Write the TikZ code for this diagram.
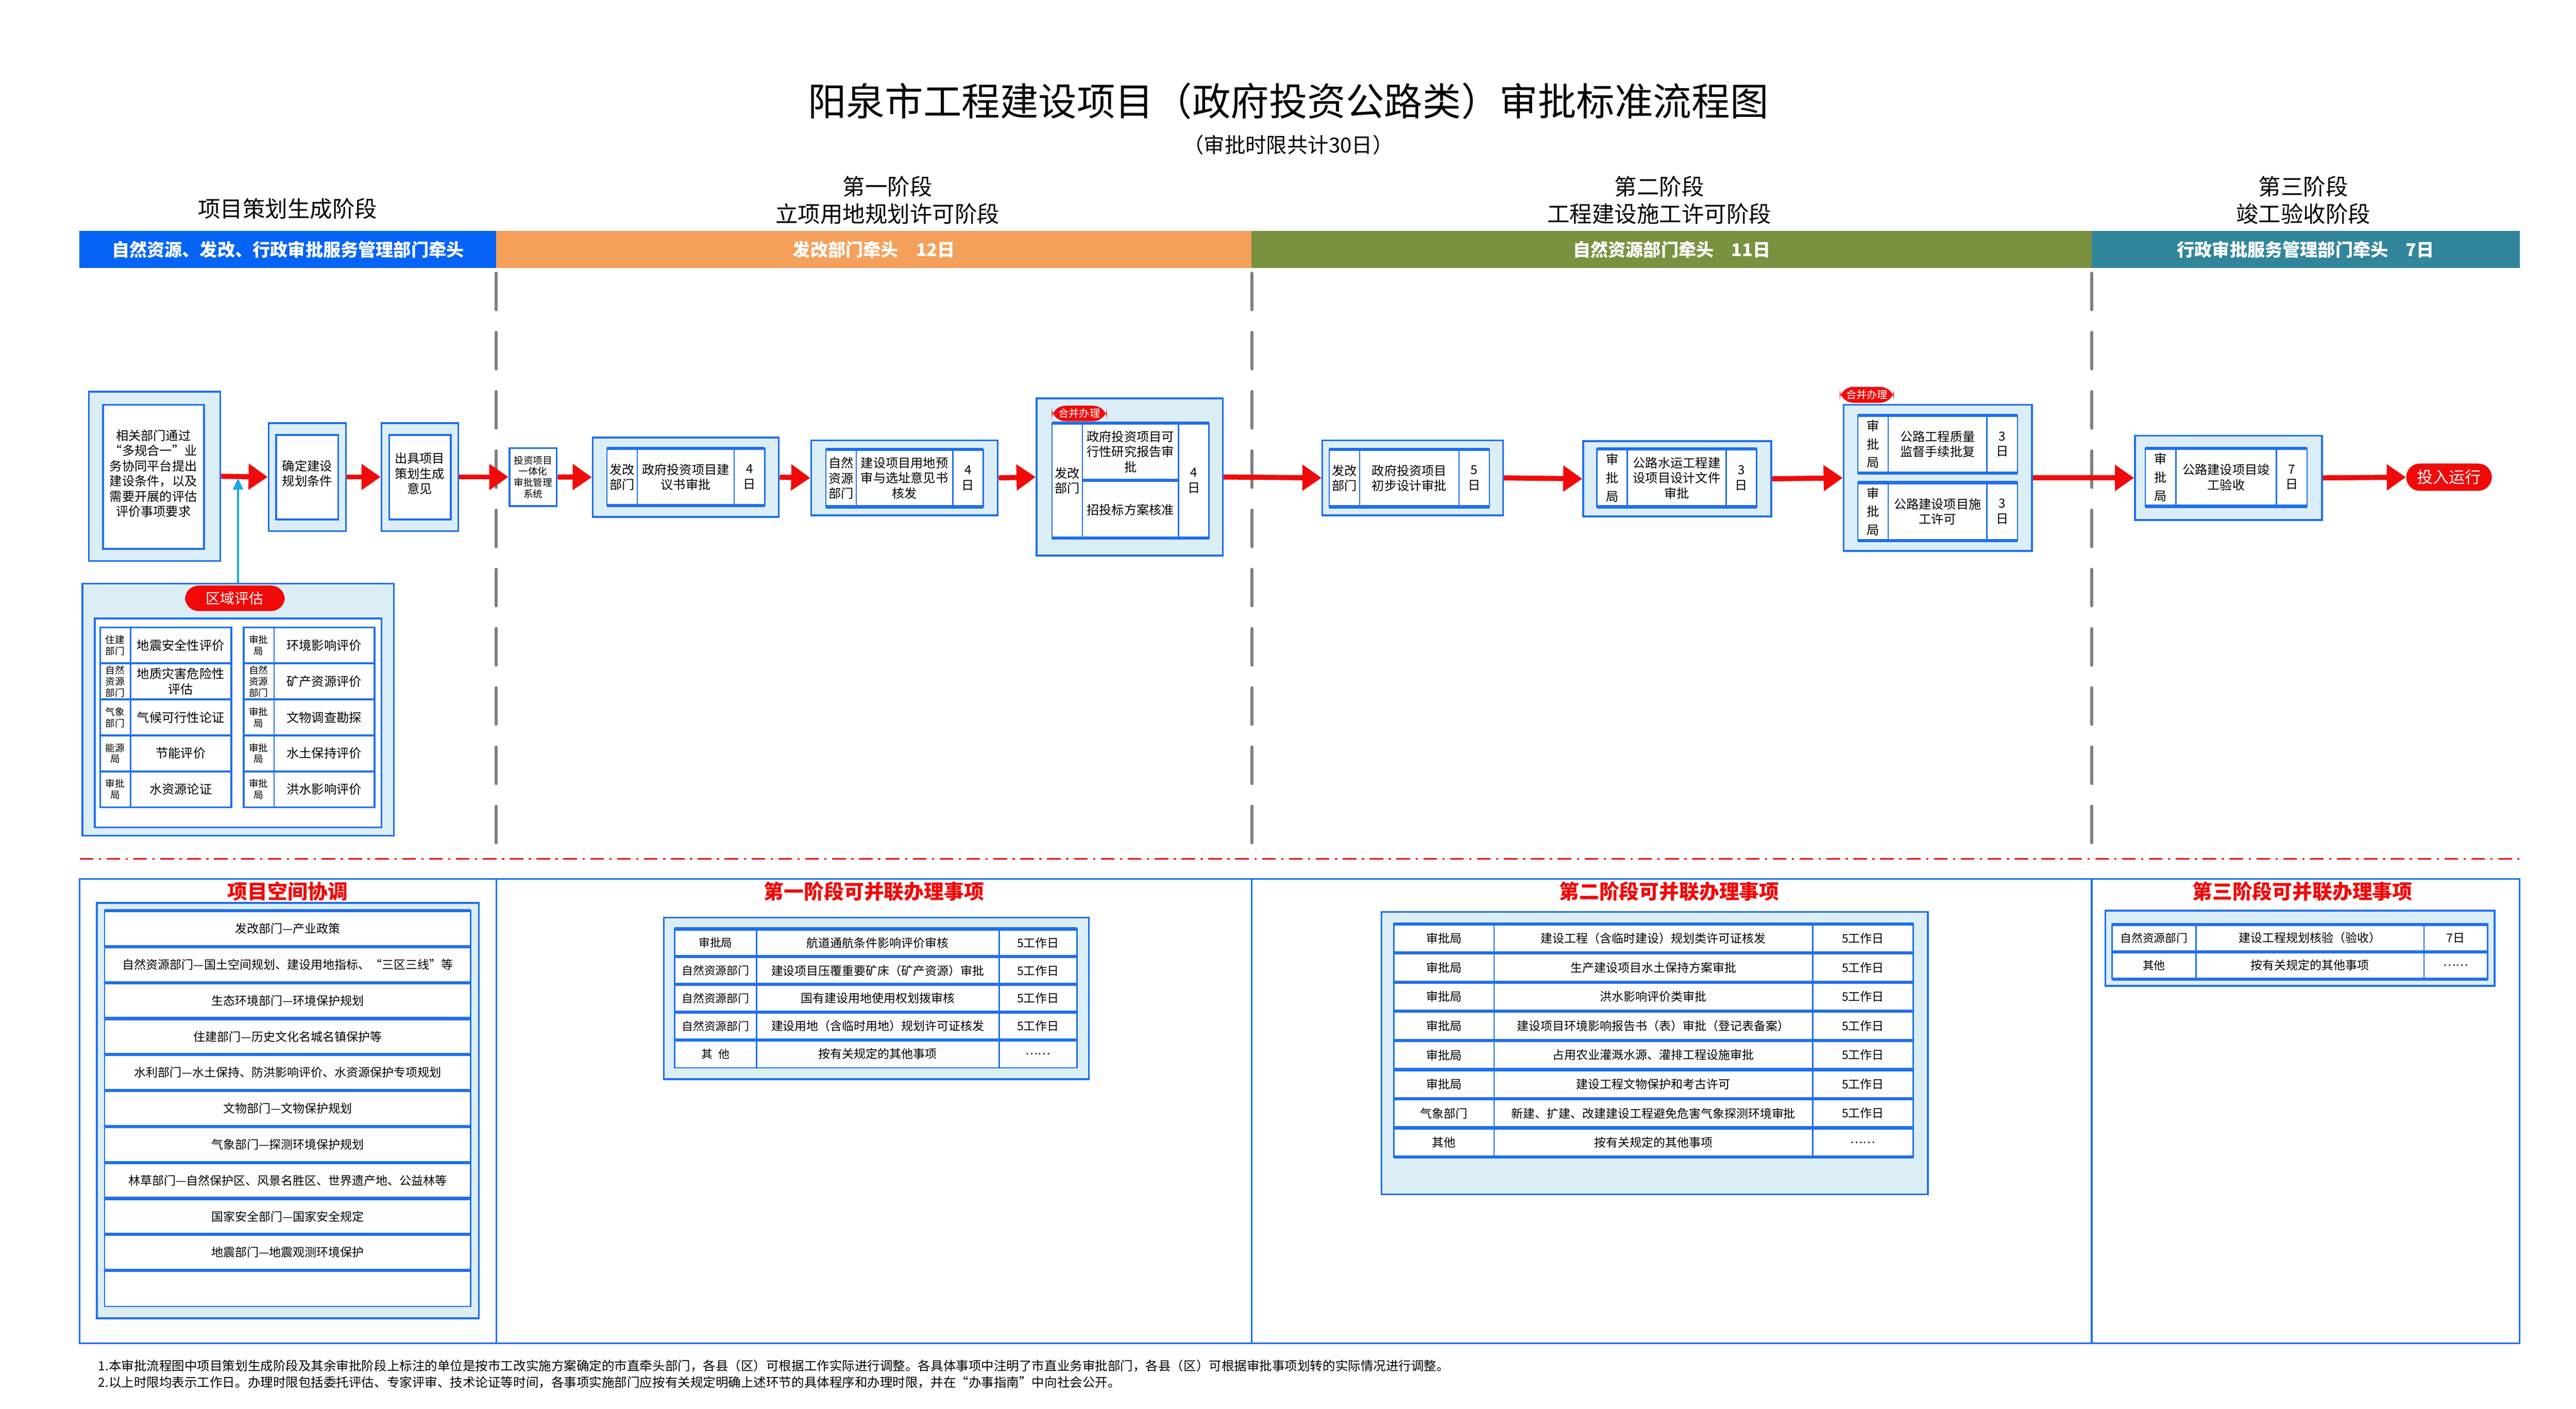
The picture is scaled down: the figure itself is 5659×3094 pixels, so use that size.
\documentclass[tikz,border=0pt]{standalone}
\usepackage{fontspec}
\setmainfont{Noto Sans CJK SC}
\usetikzlibrary{arrows.meta,positioning}
\definecolor{lineblue}{HTML}{1F6FEF}
\definecolor{paleblue}{HTML}{DCEEF5}
\definecolor{bandblue}{HTML}{0563F5}
\definecolor{bandorange}{HTML}{F4A05A}
\definecolor{bandgreen}{HTML}{7A9140}
\definecolor{bandteal}{HTML}{31869B}
\definecolor{alarm}{HTML}{F00A0A}
\definecolor{hint}{HTML}{1AA7E8}

% outer pale panel given by its corners
\newcommand\obox[5]{\node[obox, minimum width={(#4-#2)*0.01cm}, minimum height={(#5-#3)*0.01cm}] (#1) at ({(#2+#4)/2},{(#3+#5)/2}) {};}
% step cell: name, x1, y1, x2, y2, dept, task, days
\newcommand\stepcell[8]{%
  \draw[ibox] (#2,#3) rectangle (#4,#5);
  \draw[iedge] (#2,#3) -- (#4,#3) (#2,#5) -- (#4,#5);
  \draw[icol] ({#2+67},#3) -- ({#2+67},#5) ({#4-67},#3) -- ({#4-67},#5);
  \node[txt] (#1-d) at ({#2+33.5},{(#3+#5)/2}) {#6};
  \node[txt] (#1-t) at ({(#2+#4)/2},{(#3+#5)/2}) {#7};
  \node[txt] (#1-n) at ({#4-33.5},{(#3+#5)/2}) {#8};}

\begin{document}
\begin{tikzpicture}[x=0.01cm, y=-0.01cm,
  obox/.style={draw=lineblue, fill=paleblue, line width=1.1pt, inner sep=0},
  ibox/.style={draw=lineblue, fill=white, line width=0.8pt},
  iedge/.style={draw=lineblue, line width=2pt},
  icol/.style={draw=lineblue, line width=0.8pt},
  txt/.style={font=\fontsize{7.8}{9.5}\selectfont, align=center, inner sep=0},
  small/.style={font=\fontsize{6}{7}\selectfont, align=center, inner sep=0},
  ttxt/.style={font=\fontsize{7.4}{9}\selectfont, align=center, inner sep=0},
  phase/.style={font=\fontsize{14}{17}\selectfont, align=center},
  band/.style={text=white, font=\bfseries\fontsize{11}{13}\selectfont, minimum height=0.81cm, inner sep=0},
  badge/.style={fill=alarm, text=white, rounded corners=0.3cm, inner sep=0},
  red title/.style={text=alarm, font=\bfseries\fontsize{12.5}{15}\selectfont},
  flow/.style={draw=alarm, line width=3.2pt, -{Triangle[length=0.42cm, width=0.55cm]}},
  up/.style={draw=hint, line width=1.2pt, -{Triangle[length=0.25cm, width=0.22cm]}},
  sep/.style={draw=gray, line width=2pt, line cap=round, dash pattern=on 0.8cm off 0.5cm},
  frame/.style={draw=lineblue, line width=1pt}]
\useasboundingbox (0,0) rectangle (5659,3094);

% title
\node[font=\fontsize{24}{28}\selectfont] (title) at (2830,222) {阳泉市工程建设项目（政府投资公路类）审批标准流程图};
\node[font=\fontsize{13}{15}\selectfont] (subtitle) at (2830,318) {（审批时限共计30日）};

% phases
\node[phase] (h0) at (632,458) {项目策划生成阶段};
\node[phase] (h1) at (1950,440) {第一阶段\\立项用地规划许可阶段};
\node[phase] (h2) at (3645,440) {第二阶段\\工程建设施工许可阶段};
\node[phase] (h3) at (5060,440) {第三阶段\\竣工验收阶段};
\node[band, fill=bandblue, minimum width=9.15cm] (b0) at (632.5,548) {自然资源、发改、行政审批服务管理部门牵头};
\node[band, fill=bandorange, minimum width=16.6cm] (b1) at (1920,548) {发改部门牵头\quad 12日};
\node[band, fill=bandgreen, minimum width=18.45cm] (b2) at (3672.5,548) {自然资源部门牵头\quad 11日};
\node[band, fill=bandteal, minimum width=9.4cm] (b3) at (5065,548) {行政审批服务管理部门牵头\quad 7日};
\foreach \x in {1090,2750,4595}
  \draw[sep] (\x,600) -- (\x,1870);
\draw[alarm, line width=1.2pt, dash pattern=on 0.3cm off 0.12cm on 0.05cm off 0.12cm] (175,1886) -- (5535,1886);

% planning stage
\obox{o1}{195}{860}{484}{1232}
\draw[ibox, line width=1.2pt] (226,889) rectangle (448,1205);
\node[txt] (o1-t) at (337,1040) {相关部门通过\\“多规合一”业\\务协同平台提出\\建设条件，以及\\需要开展的评估\\评价事项要求};
\obox{o2}{590}{929}{760}{1166}
\draw[ibox, line width=1.2pt] (607,955) rectangle (743,1141);
\node[txt] (o2-t) at (675,1040) {确定建设\\规划条件};
\obox{o3}{838}{929}{1007}{1166}
\draw[ibox, line width=1.2pt] (855,955) rectangle (990,1141);
\node[txt] (o3-t) at (922,1040) {出具项目\\策划生成\\意见};

% area assessment
\obox{zone}{181}{1282}{865}{1835}
\draw[ibox, line width=1.2pt] (208,1358) rectangle (838,1817);
\node[badge, minimum width=2.19cm, minimum height=0.56cm, font=\fontsize{9}{11}\selectfont] (zonetag) at (516,1314) {区域评估};
\foreach \d/\t [count=\k from 0] in {住建\\部门/地震安全性评价, 自然\\资源\\部门/地质灾害危险性\\评估, 气象\\部门/气候可行性论证, 能源\\局/节能评价, 审批\\局/水资源论证}{
  \draw[ibox, line width=1.2pt] (220,{1378+79*\k}) rectangle (508,{1457+79*\k});
  \draw[icol] (287,{1378+79*\k}) -- (287,{1457+79*\k});
  \node[small] (zl\k) at (253,{1417.5+79*\k}) {\d};
  \node[txt] (zlt\k) at (397,{1417.5+79*\k}) {\t};
}
\foreach \d/\t [count=\k from 0] in {审批\\局/环境影响评价, 自然\\资源\\部门/矿产资源评价, 审批\\局/文物调查勘探, 审批\\局/水土保持评价, 审批\\局/洪水影响评价}{
  \draw[ibox, line width=1.2pt] (535,{1378+79*\k}) rectangle (823,{1457+79*\k});
  \draw[icol] (602,{1378+79*\k}) -- (602,{1457+79*\k});
  \node[small] (zr\k) at (568,{1417.5+79*\k}) {\d};
  \node[txt] (zrt\k) at (712,{1417.5+79*\k}) {\t};
}

% stage one
\node[draw=lineblue, fill=white, line width=1.2pt, minimum width=1.04cm, minimum height=1.27cm, small] (sys) at (1171,1047.5) {投资项目\\一体化\\审批管理\\系统};
\obox{o5}{1302}{961}{1711}{1135}
\stepcell{c5}{1333}{985}{1680}{1110}{发改\\部门}{政府投资项目建\\议书审批}{4\\日}
\obox{o6}{1782}{967}{2192}{1132}
\stepcell{c6}{1814}{987}{2160}{1113}{自然\\资源\\部门}{建设项目用地预\\审与选址意见书\\核发}{4\\日}
\obox{o7}{2277}{875}{2686}{1220}
\stepcell{c7}{2311}{929}{2656}{1182}{发改\\部门}{}{4\\日}
\draw[iedge] (2378,1055) -- (2589,1055);
\node[txt] (c7-a) at (2483.5,992) {政府投资项目可\\行性研究报告审\\批};
\node[txt] (c7-b) at (2483.5,1120) {招投标方案核准};
\node[badge, minimum width=1.21cm, minimum height=0.34cm, font=\fontsize{6.5}{8}\selectfont] (merge1) at (2371,908) {合并办理};

% stage two
\obox{o8}{2905}{967}{3302}{1132}
\stepcell{c8}{2920}{987}{3272}{1113}{发改\\部门}{政府投资项目\\初步设计审批}{5\\日}
\obox{o9}{3478}{969}{3891}{1134}
\stepcell{c9}{3508}{986}{3859}{1113}{审\\[2pt]批\\[2pt]局}{公路水运工程建\\设项目设计文件\\审批}{3\\日}
\obox{o10}{4050}{889}{4464}{1210}
\stepcell{c10a}{4081}{912}{4432}{1039}{审\\[2pt]批\\[2pt]局}{公路工程质量\\监督手续批复}{3\\日}
\stepcell{c10b}{4081}{1060}{4432}{1187}{审\\[2pt]批\\[2pt]局}{公路建设项目施\\工许可}{3\\日}
\node[badge, minimum width=1.19cm, minimum height=0.35cm, font=\fontsize{6.5}{8}\selectfont] (merge2) at (4101,867) {合并办理};

% stage three
\obox{o11}{4690}{957}{5101}{1142}
\stepcell{c11}{4713}{985}{5068}{1112}{审\\[2pt]批\\[2pt]局}{公路建设项目竣\\工验收}{7\\日}
\node[badge, rounded corners=0.3cm, minimum width=1.88cm, minimum height=0.6cm, font=\fontsize{10}{12}\selectfont] (run) at (5380,1048) {投入运行};

% main flow
\draw[flow] (o1.east) -- (o2.west);
\draw[flow] (o2.east) -- (o3.west);
\draw[flow] (o3.east) -- (sys.west);
\draw[flow] (sys.east) -- (o5.west);
\draw[flow] (o5.east) -- (o6.west);
\draw[flow] (o6.east) -- (o7.west);
\draw[flow] (o7.east) -- (o8.west);
\draw[flow] (o8.east) -- (o9.west);
\draw[flow] (o9.east) -- (o10.west);
\draw[flow] (o10.east) -- (o11.west);
\draw[flow] (o11.east) -- (run.west);
\coordinate (join) at (523,1050);
\draw[up] (zone.north -| join) -- (join);

% parallel items
\draw[frame] (175,1930) rectangle (5535,2950);
\foreach \x in {1090,2750,4595}
  \draw[frame] (\x,1930) -- (\x,2950);
\node[red title] (t0) at (632,1958) {项目空间协调};
\node[red title] (t1) at (1920,1958) {第一阶段可并联办理事项};
\node[red title] (t2) at (3667,1958) {第二阶段可并联办理事项};
\node[red title] (t3) at (5058,1958) {第三阶段可并联办理事项};

\obox{q0}{213}{1983}{1052}{2895}
\foreach \t [count=\k from 0] in {发改部门—产业政策, 自然资源部门—国土空间规划、建设用地指标、“三区三线”等, 生态环境部门—环境保护规划, 住建部门—历史文化名城名镇保护等, 水利部门—水土保持、防洪影响评价、水资源保护专项规划, 文物部门—文物保护规划, 气象部门—探测环境保护规划, 林草部门—自然保护区、风景名胜区、世界遗产地、公益林等, 国家安全部门—国家安全规定, 地震部门—地震观测环境保护, {}}{
  \draw[ibox] (230,{2000+79*\k}) rectangle (1034,{2079+79*\k});
  \draw[iedge] (230,{2000+79*\k}) -- (1034,{2000+79*\k});
  \node[ttxt] (sp\k) at (632,{2039.5+79*\k}) {\t};
}

\obox{q1}{1458}{2015}{2392}{2370}
\foreach \d/\t/\n [count=\k from 0] in {审批局/航道通航条件影响评价审核/5工作日, 自然资源部门/建设项目压覆重要矿床（矿产资源）审批/5工作日, 自然资源部门/国有建设用地使用权划拨审核/5工作日, 自然资源部门/建设用地（含临时用地）规划许可证核发/5工作日, 其\enspace 他/按有关规定的其他事项/……}{
  \draw[ibox] (1482,{2040+61*\k}) rectangle (2366,{2101+61*\k});
  \draw[iedge] (1482,{2040+61*\k}) -- (2366,{2040+61*\k});
  \draw[icol] (1662,{2040+61*\k}) -- (1662,{2101+61*\k}) (2195,{2040+61*\k}) -- (2195,{2101+61*\k});
  \node[small, font=\fontsize{7}{8}\selectfont] (p1d\k) at (1572,{2070.5+61*\k}) {\d};
  \node[ttxt] (p1t\k) at (1928.5,{2070.5+61*\k}) {\t};
  \node[ttxt] (p1n\k) at (2280.5,{2070.5+61*\k}) {\n};
}

\obox{q2}{3035}{2003}{4235}{2623}
\foreach \d/\t/\n [count=\k from 0] in {审批局/建设工程（含临时建设）规划类许可证核发/5工作日, 审批局/生产建设项目水土保持方案审批/5工作日, 审批局/洪水影响评价类审批/5工作日, 审批局/建设项目环境影响报告书（表）审批（登记表备案）/5工作日, 审批局/占用农业灌溉水源、灌排工程设施审批/5工作日, 审批局/建设工程文物保护和考古许可/5工作日, 气象部门/新建、扩建、改建建设工程避免危害气象探测环境审批/5工作日, 其他/按有关规定的其他事项/……}{
  \draw[ibox] (3062,{2029+64*\k}) rectangle (4203,{2093+64*\k});
  \draw[iedge] (3062,{2029+64*\k}) -- (4203,{2029+64*\k});
  \draw[icol] (3282,{2029+64*\k}) -- (3282,{2093+64*\k}) (3982,{2029+64*\k}) -- (3982,{2093+64*\k});
  \node[ttxt] (p2d\k) at (3172,{2061+64*\k}) {\d};
  \node[ttxt] (p2t\k) at (3632,{2061+64*\k}) {\t};
  \node[ttxt] (p2n\k) at (4092.5,{2061+64*\k}) {\n};
}
\draw[iedge] (3062,2541) -- (4203,2541);

\obox{q3}{4625}{2000}{5480}{2165}
\foreach \d/\t/\n [count=\k from 0] in {自然资源部门/建设工程规划核验（验收）/7日, 其他/按有关规定的其他事项/……}{
  \draw[ibox] (4640,{2030+60*\k}) rectangle (5465,{2090+60*\k});
  \draw[iedge] (4640,{2030+60*\k}) -- (5465,{2030+60*\k});
  \draw[icol] (4824,{2030+60*\k}) -- (4824,{2090+60*\k}) (5325,{2030+60*\k}) -- (5325,{2090+60*\k});
  \node[small, font=\fontsize{7}{8}\selectfont] (p3d\k) at (4732,{2060+60*\k}) {\d};
  \node[ttxt] (p3t\k) at (5074.5,{2060+60*\k}) {\t};
  \node[ttxt] (p3n\k) at (5395,{2060+60*\k}) {\n};
}
\draw[iedge] (4640,2150) -- (5465,2150);

% notes
\node[anchor=west, inner sep=0, font=\fontsize{7.9}{9.5}\selectfont] (note1) at (215,3000) {1.本审批流程图中项目策划生成阶段及其余审批阶段上标注的单位是按市工改实施方案确定的市直牵头部门，各县（区）可根据工作实际进行调整。各具体事项中注明了市直业务审批部门，各县（区）可根据审批事项划转的实际情况进行调整。};
\node[anchor=west, inner sep=0, font=\fontsize{7.9}{9.5}\selectfont] (note2) at (215,3036) {2.以上时限均表示工作日。办理时限包括委托评估、专家评审、技术论证等时间，各事项实施部门应按有关规定明确上述环节的具体程序和办理时限，并在“办事指南”中向社会公开。};
\end{tikzpicture}
\end{document}
